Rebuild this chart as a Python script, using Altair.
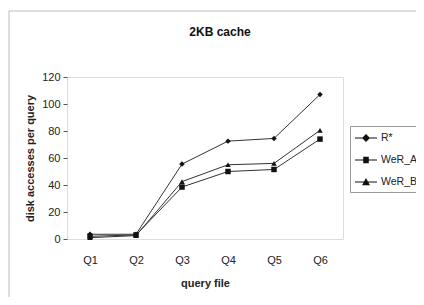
import altair as alt
import pandas as pd

queries = ["Q1", "Q2", "Q3", "Q4", "Q5", "Q6"]
series = ["R*", "WeR_A", "WeR_B"]
r_star = [3.5, 3.5, 55.5, 72.5, 74.5, 107]
wer_a = [2, 3, 38.5, 50, 51.5, 74]
wer_b = [1, 2.5, 42.5, 55, 56, 80.5]

rows = []
for name, vals in zip(series, [r_star, wer_a, wer_b]):
    for q, v in zip(queries, vals):
        rows.append({"query": q, "series": name, "value": v})
df = pd.DataFrame(rows)

FONT = "Liberation Sans"

x_enc = alt.X("query:N", sort=queries,
              scale=alt.Scale(type="point", padding=0.5),
              axis=alt.Axis(title="query file", labelAngle=0, ticks=False, domain=False,
                            labelPadding=15, titlePadding=12, labelFontSize=11,
                            titleFontSize=11, titleFontWeight="bold", labelColor="#222",
                            titleColor="#222", labelFont=FONT, titleFont=FONT))
y_enc = alt.Y("value:Q", scale=alt.Scale(domain=[0, 120], nice=False),
              axis=alt.Axis(title="disk accesses per query", values=[0, 20, 40, 60, 80, 100, 120],
                            grid=False, domain=False, tickSize=4, tickColor="#555",
                            labelPadding=3, titlePadding=6, labelFontSize=11,
                            titleFontSize=11, titleFontWeight="bold", labelColor="#222",
                            titleColor="#222", labelFont=FONT, titleFont=FONT))

base = alt.Chart(df)

lines = base.mark_line(color="#333", strokeWidth=1).encode(
    x=x_enc, y=y_enc, detail="series:N")

marker_shapes = ["diamond", "square", "triangle-up"]
point_layers = []
for name, shp in zip(series, marker_shapes):
    point_layers.append(
        base.transform_filter(alt.datum.series == name)
        .mark_point(filled=True, color="#111", opacity=1, shape=shp, size=30)
        .encode(x=x_enc, y=y_enc)
    )

LINE = "M-0.875,-0.06H1.875V0.06H-0.875Z"
legend_paths = [
    LINE + "M0.5,-0.5L1.0,0L0.5,0.5L0.0,0Z",
    LINE + "M0.15,-0.4H0.85V0.4H0.15Z",
    LINE + "M0.5,-0.5L1.0,0.4L0.0,0.4Z",
]
legend_layer = base.mark_point(filled=True, color="#111", opacity=0).encode(
    x=x_enc, y=y_enc,
    shape=alt.Shape("series:N",
                    scale=alt.Scale(domain=series, range=legend_paths),
                    legend=alt.Legend(title=None, orient="none", legendX=283, legendY=49,
                                      symbolSize=256, symbolOpacity=1, symbolFillColor="#111",
                                      labelOffset=10, labelFontSize=10.5, labelFont=FONT,
                                      labelColor="#222", rowPadding=6, padding=3,
                                      strokeColor="#999", fillColor="white")),
    size=alt.value(256))

frame_df = pd.DataFrame({"a": [0]})
frame_left = alt.Chart(frame_df).mark_rule(color="#bbb", strokeWidth=1).encode(
    x=alt.value(-58), y=alt.value(-66), y2=alt.value(240))
frame_top = alt.Chart(frame_df).mark_rule(color="#bbb", strokeWidth=1).encode(
    x=alt.value(-58), x2=alt.value(360), y=alt.value(-66))

chart = alt.layer(frame_left, frame_top, lines, *point_layers, legend_layer).properties(
    width=276, height=162,
    title=alt.TitleParams("2KB cache", fontSize=12, fontWeight="bold", font=FONT,
                          color="#111", offset=-28, dx=15, anchor="middle", frame="group"),
    autosize=alt.AutoSizeParams(type="none"),
    padding={"left": 59, "top": 69, "right": 73, "bottom": 58},
).configure_view(stroke="#111", strokeWidth=1.5).configure(background="white")

chart.save("out.html", embed_options={"renderer": "svg", "actions": False})
